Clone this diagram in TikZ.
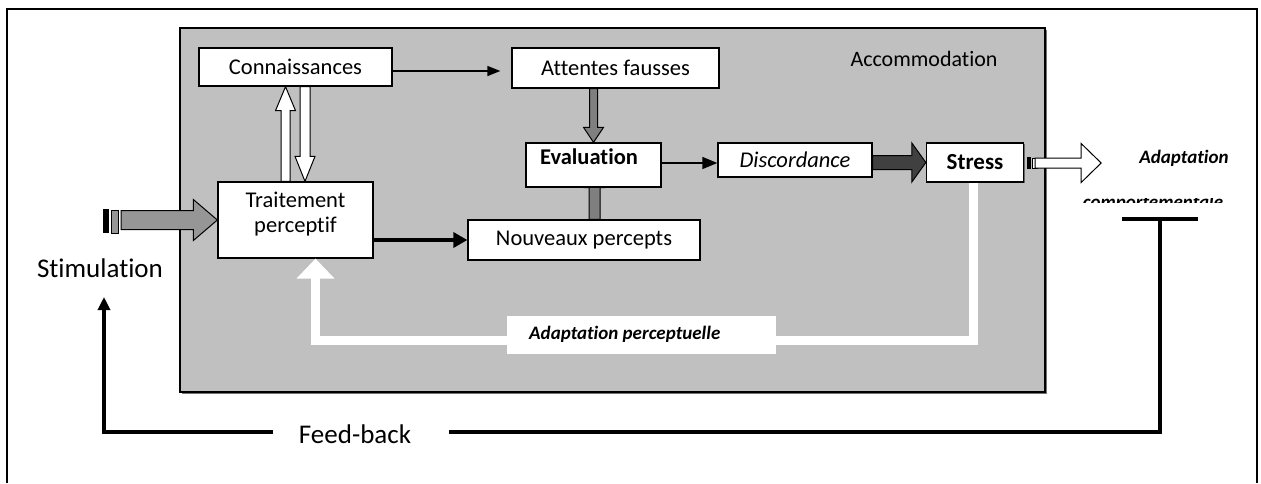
\documentclass[tikz,border=0pt]{standalone}
\usepackage{fontspec}
\setmainfont{Carlito}[Ligatures={NoCommon,NoContextual}]
\usetikzlibrary{calc,arrows.meta,shadows}

\pgfdeclarelayer{back}
\pgfdeclarelayer{under}
\pgfsetlayers{back,under,main}

\definecolor{panel}{HTML}{C0C0C0}
\definecolor{stimgray}{HTML}{969696}
\definecolor{midgray}{HTML}{7F7F7F}
\definecolor{deepgray}{HTML}{404040}

% Block arrow: [style]{from}{to}{shaft half width}{head half width}{head length}
\newcommand\fatarrow[6][]{%
  \coordinate (fa-s) at (#2);
  \coordinate (fa-e) at (#3);
  \coordinate (fa-h) at ($(fa-e)!#6!(fa-s)$);
  \draw[#1] ($(fa-s)!#4!90:(fa-e)$) -- ($(fa-h)!#4!90:(fa-e)$)
    -- ($(fa-h)!#5!90:(fa-e)$) -- (fa-e) -- ($(fa-h)!#5!-90:(fa-e)$)
    -- ($(fa-h)!#4!-90:(fa-e)$) -- ($(fa-s)!#4!-90:(fa-e)$) -- cycle;}

\tikzset{
  box/.style={draw, line width=1.3pt, fill=white, inner sep=0pt,
    font=\fontsize{22.5}{25}\selectfont,
    drop shadow={shadow xshift=1.3pt, shadow yshift=-1.3pt, fill=black!60, opacity=1}},
  boxtext/.style={inner sep=0pt, font=\fontsize{22.5}{25}\selectfont, align=center},
  lbl/.style={inner sep=0pt},
  biglbl/.style={inner sep=0pt, font=\fontsize{27}{30}\selectfont},
  emlbl/.style={inner sep=0pt, font=\fontsize{19}{22}\selectfont\bfseries\itshape},
  thinarrow/.style={line width=1.5pt, -{Triangle[length=13pt,width=10pt]}},
  midarrow/.style={line width=1.5pt, -{Triangle[length=15pt,width=12pt]}},
  thickarrow/.style={line width=4.5pt, -{Triangle[length=14pt,width=15pt]}},
  fbline/.style={line width=3.2pt},
  openarrow/.style={draw=black, line width=1pt, fill=white},
}

\begin{document}
\begin{tikzpicture}[x=1pt, y=-1pt]
\useasboundingbox (0,0) rectangle (1261,483);

% outer frame (open at the bottom)
\draw[line width=1.6pt] (7,483) -- (7,9) -- (1257,9) -- (1257,483);

% grey accommodation panel
\begin{pgfonlayer}{back}
  \node[draw, line width=1.2pt, fill=panel, minimum width=865pt, minimum height=364pt,
        drop shadow={shadow xshift=1.8pt, shadow yshift=-1.8pt, fill=black!55, opacity=1}]
        (panel) at (612.5,210) {};
\end{pgfonlayer}
\node[lbl, font=\fontsize{22}{25}\selectfont] (acc) at (924,59) {Accommodation};

% boxes
\node[box, minimum width=193pt, minimum height=38pt] (conn) at (295.5,67) {Connaissances};
\node[box, minimum width=207pt, minimum height=40pt] (att) at (615.5,68) {Attentes fausses};
\node[box, minimum width=155pt, minimum height=76pt] (trait) at (295.5,220) {};
\node[boxtext] (traittext) at (295.5,214.5) {Traitement\\perceptif};
\node[box, minimum width=135pt, minimum height=44pt] (eval) at (593.5,165) {};
\node[boxtext, font=\fontsize{22.5}{25}\selectfont\bfseries] (evaltext) at (589,157) {Evaluation};
\node[box, minimum width=232pt, minimum height=40pt] (nouv) at (584,240) {Nouveaux percepts};
\node[box, minimum width=154pt, minimum height=34pt] (disc) at (795,160) {\itshape Discordance};
\node[box, minimum width=97pt, minimum height=39pt, font=\fontsize{23}{25}\selectfont\bfseries] (stress) at (975,162.5) {Stress};

% free labels
\node[biglbl] (stim) at (100,268) {Stimulation};
\node[biglbl] (fb) at (355,434) {Feed-back};
\node[emlbl] (adapt) at (1184,158) {Adaptation};
\begin{scope}
  \clip (1070,198.5) rectangle (1240,202.5);
  \node[emlbl, anchor=base] (comport) at (1153,208) {comportementale};
\end{scope}

% stimulation input arrow
\coordinate (stimtail) at (121,220);
\fill (103,209) rectangle (108.5,233);
\draw[fill=stimgray, line width=0.9pt] (111,210) rectangle (118,233);
\fatarrow[draw, line width=1pt, fill=stimgray]{stimtail}{stimtail -| trait.west}{9.5pt}{20.5pt}{24pt}

% connaissances <-> traitement
\fatarrow[openarrow]{$(trait.north)+(-10,0)$}{$(conn.south)+(-10,0)$}{4.5pt}{10pt}{24pt}
\fatarrow[openarrow]{$(conn.south)+(9.5,0)$}{$(trait.north)+(9.5,0)$}{5pt}{10pt}{25pt}

% connaissances -> attentes fausses
\draw[thinarrow] ($(conn.east)+(0,4)$) -- ($(att.west)+(-11,3)$);

% traitement -> nouveaux percepts
\draw[thickarrow] (trait.east |- nouv.west) -- (nouv.west);

% attentes fausses -> evaluation
\fatarrow[draw, line width=1pt, fill=midgray]{eval.north |- att.south}{eval.north}{4pt}{10pt}{15pt}

% nouveaux percepts -> evaluation (tip hidden under the box)
\begin{pgfonlayer}{under}
  \fatarrow[draw, line width=1pt, fill=midgray]{$(eval.south |- nouv.north)+(1,0)$}{$(eval.south)+(1,-15)$}{5.5pt}{10pt}{15pt}
\end{pgfonlayer}

% evaluation -> discordance
\draw[midarrow] ($(eval.east)+(0,-2)$) -- ($(disc.west |- eval.east)+(0,-2)$);

% discordance -> stress
\fatarrow[draw, line width=1pt, fill=deepgray]{disc.east |- stress.west}{stress.west}{7pt}{19.5pt}{14pt}

% stress -> behavioural adaptation
\fill (1027,157) rectangle (1031,169);
\draw[fill=white, line width=0.8pt] (1032,158) rectangle (1037,168);
\fatarrow[openarrow]{$(stress.east)+(11,0.5)$}{$(stress.east)+(77,0.5)$}{5pt}{19.5pt}{20pt}

% perceptual adaptation loop
\draw[white, line width=9pt, -{Triangle[length=20pt,width=37pt]}]
  ($(stress.south)+(-2,0)$) |- ($(trait.south)+(20,82)$) -- ($(trait.south)+(20,0)$);
\node[fill=white, minimum width=269pt, minimum height=38pt, inner sep=0pt] (adpbox) at (641.5,335) {};
\node[emlbl, anchor=base west] (adptext) at (529,339.5) {Adaptation perceptuelle};

% feed-back loop
\coordinate (tl) at (1122,219);
\coordinate (tr) at (1198,219);
\coordinate (tm) at (1160,219);
\coordinate (fbtip) at (104,297);
\draw[line width=3.6pt] (tl) -- (tr);
\draw[fbline] (tm) |- ($(fb.east)+(38,-2)$);
\draw[fbline, -{Triangle[length=13pt,width=12pt]}] ($(fb.west)+(-26,-2)$) -| (fbtip);

\end{tikzpicture}
\end{document}
